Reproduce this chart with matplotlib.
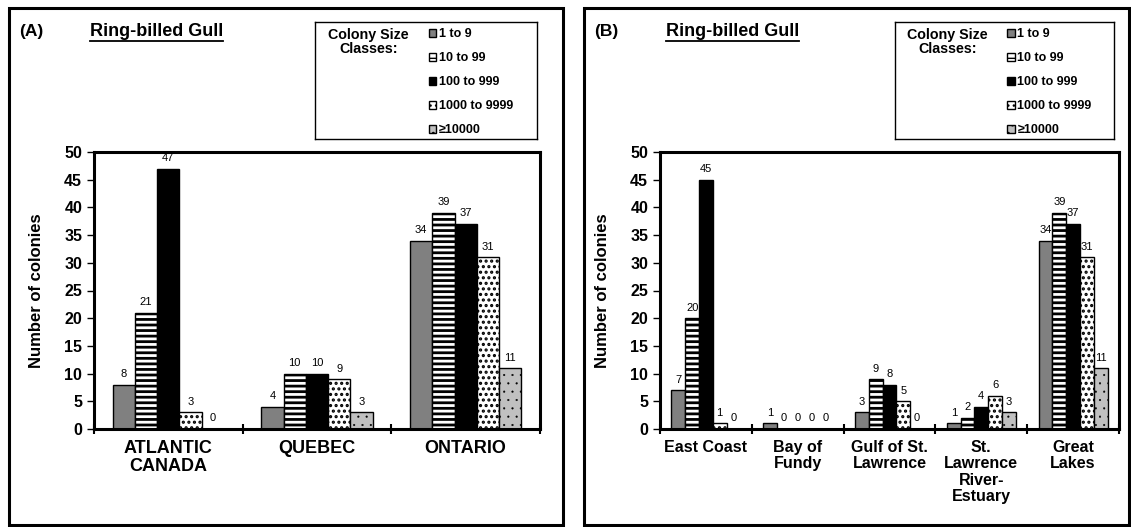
import numpy as np
import matplotlib as mpl
import matplotlib.pyplot as plt
from matplotlib.patches import Rectangle
from matplotlib.lines import Line2D

plt.rcParams['font.family'] = ['Liberation Sans', 'DejaVu Sans']

# colony size classes
classes = ["1 to 9", "10 to 99", "100 to 999", "1000 to 9999", "\u226510000"]

# panel A: provinces
cats_a = ["ATLANTIC\nCANADA", "QUEBEC", "ONTARIO"]
vals_a = [
    [8, 4, 34],
    [21, 10, 39],
    [47, 10, 37],
    [3, 9, 31],
    [0, 3, 11],
]

# panel B: regions
cats_b = ["East Coast", "Bay of\nFundy", "Gulf of St.\nLawrence",
          "St.\nLawrence\nRiver-\nEstuary", "Great\nLakes"]
vals_b = [
    [7, 1, 3, 1, 34],
    [20, 0, 9, 2, 39],
    [45, 0, 8, 4, 37],
    [1, 0, 5, 6, 31],
    [0, 0, 0, 3, 11],
]

# fill style per class: facecolor, hatch, hatch linewidth
styles = [
    ("#808080", None, 1.0),
    ("white", "---", 2.0),
    ("black", None, 1.0),
    ("white", "...", 1.5),
    ("#c0c0c0", "..", 0.3),
]

W, H = 1131, 527
fig = plt.figure(figsize=(W / 100, H / 100), dpi=100)


def fr(x0, y0, x1, y1):
    return [x0 / W, 1 - y1 / H, (x1 - x0) / W, (y1 - y0) / H]


def draw_panel(rect, cats, vals, ylab_x, catsize):
    ax = fig.add_axes(fr(*rect))
    n = len(cats)
    x = np.arange(n)
    bw = 0.15
    bars = []
    for i, (fc, hatch, hlw) in enumerate(styles):
        with mpl.rc_context({'hatch.linewidth': hlw}):
            b = ax.bar(x + (i - 2) * bw, vals[i], bw, color=fc,
                       edgecolor="black", linewidth=1.0, hatch=hatch)
        for p in b:
            if hasattr(p, "set_hatch_linewidth"):
                p.set_hatch_linewidth(hlw)
        bars.append(b)
        for xi, v in zip(x + (i - 2) * bw, vals[i]):
            ax.annotate(str(v), (xi, v), xytext=(0, 4),
                        textcoords="offset points", ha="center",
                        va="bottom", fontsize=8)
    ax.set_ylim(0, 50)
    ax.set_xlim(-0.5, n - 0.5)
    ax.set_yticks(np.arange(0, 51, 5))
    ax.tick_params(axis="y", direction="out", length=5, width=1,
                   labelsize=11.5)
    for lab in ax.get_yticklabels():
        lab.set_fontweight("bold")
    ax.set_xticks(np.arange(n + 1) - 0.5)
    ax.set_xticklabels([])
    ax.tick_params(axis="x", which="major", direction="inout", length=7,
                   width=1.5)
    ax.set_xticks(x, minor=True)
    ax.set_xticklabels(cats, minor=True, fontsize=catsize, fontweight="bold",
                       linespacing=1.1)
    ax.tick_params(axis="x", which="minor", length=0, pad=8)
    for s in ax.spines.values():
        s.set_linewidth(2.2)
    ax.set_ylabel("Number of colonies", fontsize=12, fontweight="bold")
    ax.yaxis.set_label_coords(ylab_x, 0.5)
    return ax, bars


def draw_legend(rect, bars):
    lax = fig.add_axes(fr(*rect))
    lax.set_xticks([])
    lax.set_yticks([])
    for s in lax.spines.values():
        s.set_linewidth(1.0)
    lax.text(0.24, 0.95, "Colony Size\nClasses:", ha="center", va="top",
             fontsize=10.3, fontweight="bold", transform=lax.transAxes,
             linespacing=1.05)
    handles = [b[0] for b in bars]
    lax.legend(handles, classes, loc="upper left",
               bbox_to_anchor=(0.49, 0.99), frameon=False,
               prop={"weight": "bold", "size": 9},
               handlelength=0.6, handleheight=0.6, handletextpad=0.2,
               labelspacing=0.96, borderaxespad=0)
    return lax


# outer frames
for x0, x1 in [(9, 563), (584, 1129)]:
    fig.patches.append(Rectangle((x0 / W, 1 - 525 / H), (x1 - x0) / W,
                                 (525 - 8) / H, transform=fig.transFigure,
                                 fill=False, edgecolor="black",
                                 linewidth=2.2))

ax_a, bars_a = draw_panel((94, 152, 540, 429), cats_a, vals_a, -0.112, 13)
ax_b, bars_b = draw_panel((660, 152, 1119, 429), cats_b, vals_b, -0.109, 11.5)

draw_legend((315, 22, 537, 139), bars_a)
draw_legend((895, 22, 1114, 139), bars_b)

# panel labels and titles
titles = []
for px, tx, lab in [(19, 90, "(A)"), (594, 666, "(B)")]:
    fig.text(px / W, 1 - 36 / H, lab, fontsize=12.5, fontweight="bold",
             va="baseline")
    t = fig.text(tx / W, 1 - 36 / H, "Ring-billed Gull", fontsize=13,
                 fontweight="bold", va="baseline")
    titles.append(t)

fig.canvas.draw()
r = fig.canvas.get_renderer()
for t in titles:
    bb = t.get_window_extent(r)
    y = (bb.y0 - 0.5) / H
    fig.lines.append(Line2D([bb.x0 / W, bb.x1 / W], [y, y],
                            transform=fig.transFigure, color="black",
                            linewidth=1.3))

fig.savefig("out.png", dpi=100)
